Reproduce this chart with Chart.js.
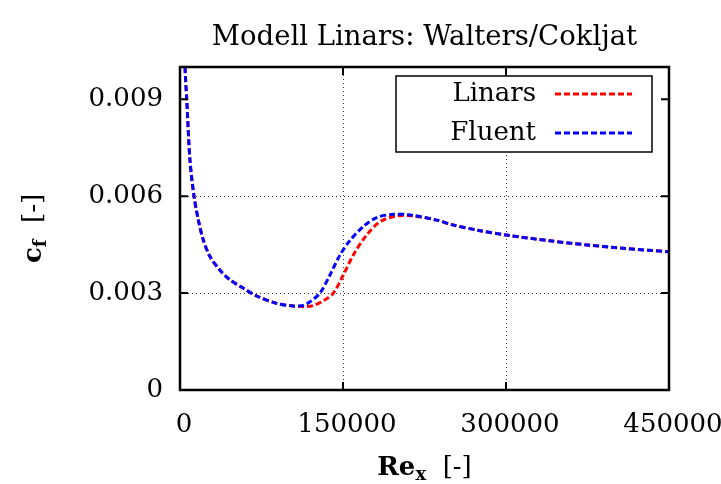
<!DOCTYPE html>
<html>
<head>
<meta charset="utf-8">
<script src="https://cdn.jsdelivr.net/npm/chart.js@4.4.0/dist/chart.umd.min.js"></script>
<style>
	body { margin: 0; background: #fff; }
</style>
</head>
<body>
<canvas id="chartCf" width="721" height="484"></canvas>
<script>
'use strict'

// values
const reLinars = [3000, 4600, 6200, 9200, 12900, 16900, 21500, 27600, 36800, 46000, 58300, 70600, 89000, 104300, 110000,
	116000, 123000, 131900, 141100, 150300, 159500, 171800, 184000, 199400, 214700,
	236200, 250000, 275000, 300000, 340000, 375000, 410000, 450000];
const cfLinars = [0.0125, 0.0100, 0.0090, 0.0071, 0.0060, 0.00526, 0.00464, 0.00413, 0.00371, 0.00341, 0.00315, 0.00291, 0.00268, 0.00260, 0.00259,
	0.00258, 0.00262, 0.00276, 0.00300, 0.00356, 0.00418, 0.00480, 0.00521, 0.00539, 0.00539,
	0.00526, 0.00512, 0.00494, 0.00480, 0.00462, 0.00449, 0.00438, 0.00428];

const reFluent = [3000, 4600, 6200, 9200, 12900, 16900, 21500, 27600, 36800, 46000, 58300, 70600, 89000, 104300, 110000,
	114000, 119600, 128800, 138000, 147200, 156400, 168700, 181000, 196300, 211600,
	236200, 250000, 275000, 300000, 340000, 375000, 410000, 450000];
const cfFluent = [0.0125, 0.0100, 0.0090, 0.0071, 0.0060, 0.00526, 0.00464, 0.00413, 0.00371, 0.00341, 0.00315, 0.00291, 0.00268, 0.00260, 0.00260,
	0.00263, 0.00273, 0.00300, 0.00356, 0.00418, 0.00463, 0.00506, 0.00534, 0.00544, 0.00542,
	0.00526, 0.00512, 0.00494, 0.00480, 0.00462, 0.00449, 0.00438, 0.00428];

const seriesNames = ['Linars', 'Fluent'];
const xTicks = [0, 150000, 300000, 450000];
const xTickLabels = ['0', '150000', '300000', '450000'];
const yTicks = [0, 0.003, 0.006, 0.009];
const yTickLabels = ['0', '0.003', '0.006', '0.009'];

const serif = '"DejaVu Serif", serif';
const fontSize = 26;

const toPoints = (xs, ys) => xs.map((x, i) => ({x: x, y: ys[i]}));

let datasets = [
	{
		label: seriesNames[0],
		data: toPoints(reLinars, cfLinars),
		borderColor: '#FF0000',
		borderWidth: 3,
		borderDash: [6, 3],
		order: 1,
	},
	{
		label: seriesNames[1],
		data: toPoints(reFluent, cfFluent),
		borderColor: '#0000FF',
		borderWidth: 3,
		borderDash: [6, 3],
		order: 0,
	},
];

const gridColor = (ctx) => {
	let last = ctx.scale.ticks.length - 1;
	return (ctx.index === 0 || ctx.index === last) ? 'rgba(0,0,0,0)' : 'rgba(0,0,0,0.8)';
};

// frame with inward ticks on all four sides (gnuplot look)
const frame = {
	id: 'frame',
	afterDatasetsDraw(chart) {
		const {ctx, chartArea: a, scales: {x, y}} = chart;
		ctx.save();
		ctx.strokeStyle = '#000';
		ctx.lineWidth = 2;
		ctx.beginPath();
		xTicks.forEach(v => {
			let px = x.getPixelForValue(v);
			ctx.moveTo(px, a.bottom);
			ctx.lineTo(px, a.bottom - 8);
			ctx.moveTo(px, a.top);
			ctx.lineTo(px, a.top + 8);
		});
		yTicks.forEach(v => {
			let py = y.getPixelForValue(v);
			ctx.moveTo(a.left, py);
			ctx.lineTo(a.left + 8, py);
			ctx.moveTo(a.right, py);
			ctx.lineTo(a.right - 8, py);
		});
		ctx.stroke();
		ctx.lineWidth = 2.5;
		ctx.strokeRect(a.left, a.top, a.width, a.height);
		ctx.restore();
	},
};

// title, axis titles with subscripts, legend box
const texts = {
	id: 'texts',
	afterDraw(chart) {
		const {ctx, chartArea: a} = chart;
		const cx = (a.left + a.right) / 2;
		ctx.save();
		ctx.fillStyle = '#000';
		ctx.textBaseline = 'alphabetic';

		ctx.font = '27.5px ' + serif;
		ctx.textAlign = 'center';
		ctx.fillText('Modell Linars: Walters/Cokljat', cx, 45);

		// x axis title: Re_x [-]
		ctx.textAlign = 'left';
		const bold = 'bold ' + fontSize + 'px ' + serif;
		const boldSub = 'bold ' + Math.round(fontSize * 0.7) + 'px ' + serif;
		const reg = fontSize + 'px ' + serif;
		ctx.font = bold; let w1 = ctx.measureText('Re').width;
		ctx.font = boldSub; let w2 = ctx.measureText('x').width;
		ctx.font = reg; let w3 = ctx.measureText('  [-]').width;
		let x0 = cx - (w1 + w2 + w3) / 2;
		let base = 475;
		ctx.font = bold; ctx.fillText('Re', x0, base);
		ctx.font = boldSub; ctx.fillText('x', x0 + w1, base + 5);
		ctx.font = reg; ctx.fillText('  [-]', x0 + w1 + w2, base);

		// y axis title: c_f [-]
		ctx.save();
		ctx.translate(41, (a.top + a.bottom) / 2);
		ctx.rotate(-Math.PI / 2);
		ctx.font = bold; w1 = ctx.measureText('c').width;
		ctx.font = boldSub; w2 = ctx.measureText('f').width;
		ctx.font = reg; w3 = ctx.measureText('  [-]').width;
		x0 = -(w1 + w2 + w3) / 2;
		ctx.font = bold; ctx.fillText('c', x0, 0);
		ctx.font = boldSub; ctx.fillText('f', x0 + w1, 5);
		ctx.font = reg; ctx.fillText('  [-]', x0 + w1 + w2, 0);
		ctx.restore();

		// legend
		ctx.fillStyle = '#fff';
		ctx.fillRect(396, 76, 256, 76);
		ctx.strokeStyle = '#000';
		ctx.lineWidth = 1.5;
		ctx.strokeRect(396, 76, 256, 76);
		ctx.font = reg;
		ctx.textAlign = 'right';
		ctx.textBaseline = 'middle';
		const rows = [94, 133];
		chart.data.datasets.forEach((ds, i) => {
			ctx.fillStyle = '#000';
			ctx.fillText(ds.label, 536, rows[i]);
			ctx.strokeStyle = ds.borderColor;
			ctx.lineWidth = ds.borderWidth;
			ctx.setLineDash(ds.borderDash);
			ctx.beginPath();
			ctx.moveTo(555, rows[i]);
			ctx.lineTo(632, rows[i]);
			ctx.stroke();
			ctx.setLineDash([]);
		});
		ctx.restore();
	},
};

let chartCf = new Chart(document.getElementById('chartCf'), {
	type: 'line',
	data: {datasets: datasets},
	options: {
		responsive: false,
		animation: false,
		elements: {
			point: {radius: 0},
			line: {tension: 0.3, fill: false},
		},
		layout: {
			padding: {top: 67, right: 52, bottom: 0, left: 0},
		},
		plugins: {
			legend: {display: false},
			tooltip: {enabled: false},
			title: {display: false},
		},
		scales: {
			x: {
				type: 'linear',
				min: 0,
				max: 450000,
				afterBuildTicks: s => { s.ticks = xTicks.map(v => ({value: v})); },
				afterFit: s => { s.height = 94; s.paddingLeft = 0; s.paddingRight = 0; },
				ticks: {
					callback: (v, i) => xTickLabels[i],
					font: {family: serif, size: fontSize},
					color: '#000',
					padding: 20,
					labelOffset: 4,
					maxRotation: 0,
					autoSkip: false,
				},
				grid: {drawTicks: false, color: gridColor, lineWidth: 1},
				border: {display: false, dash: [1, 3]},
			},
			y: {
				type: 'linear',
				min: 0,
				max: 0.01,
				afterBuildTicks: s => { s.ticks = yTicks.map(v => ({value: v})); },
				afterFit: s => { s.width = 180; s.paddingTop = 0; s.paddingBottom = 0; },
				ticks: {
					callback: (v, i) => yTickLabels[i],
					font: {family: serif, size: fontSize},
					color: '#000',
					padding: 17,
					autoSkip: false,
				},
				grid: {drawTicks: false, color: gridColor, lineWidth: 1},
				border: {display: false, dash: [1, 3]},
			},
		},
	},
	plugins: [frame, texts],
});
</script>
</body>
</html>
